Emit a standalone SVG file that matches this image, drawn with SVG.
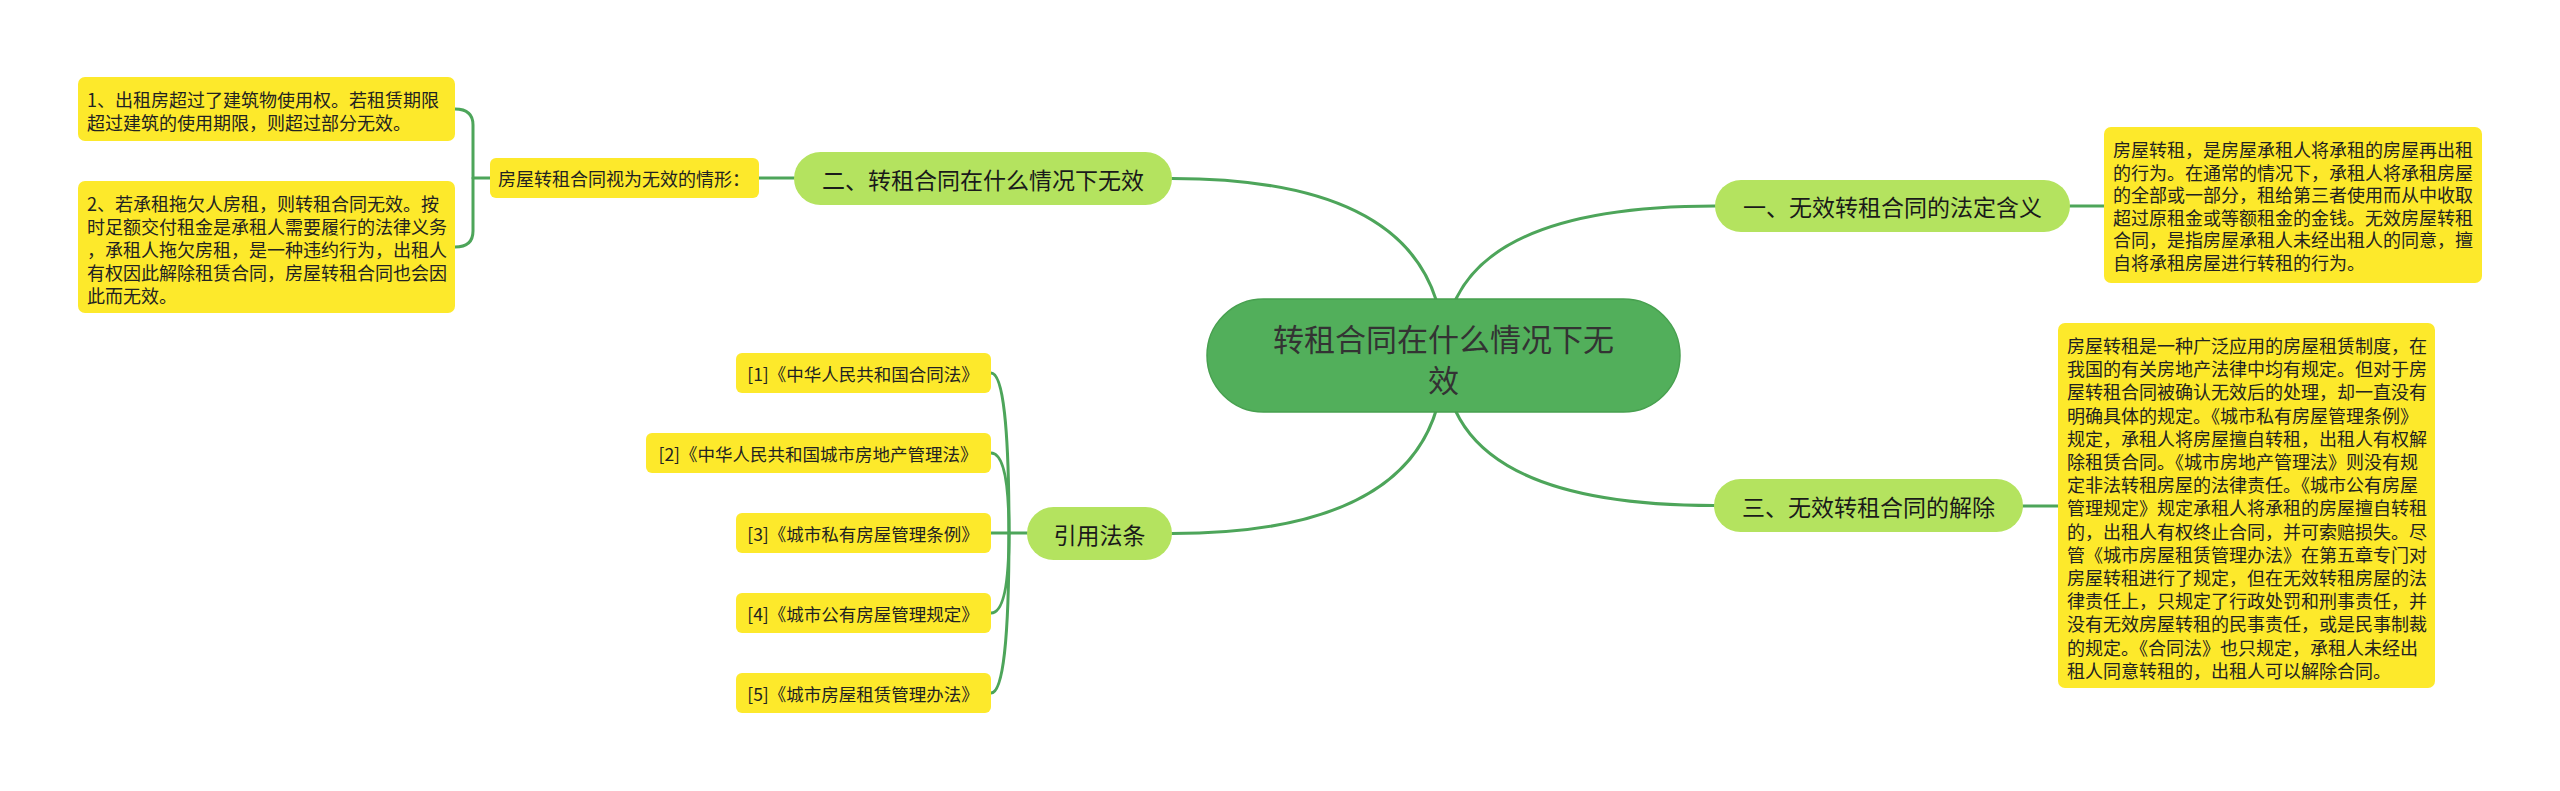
<svg xmlns="http://www.w3.org/2000/svg" width="2560" height="791" viewBox="0 0 2560 791">
<style>
text{font-family:"Noto Sans CJK SC","Noto Sans",sans-serif;fill:#222;}
.conn{fill:none;stroke:#4DA55A;stroke-width:3;stroke-linecap:round;}
.root{fill:#52AF5B;stroke:#47A04F;stroke-width:1.5;}
.main{fill:#B4E35F;}
.leaf{fill:#FDE92B;}
.t18{font-size:18px;dominant-baseline:central;}
.t17{font-size:17.5px;dominant-baseline:central;text-anchor:middle;}
.t23{font-size:23px;dominant-baseline:central;text-anchor:middle;fill:#1a1a1a;}
.t31{font-size:31px;dominant-baseline:central;text-anchor:middle;fill:#333;}
</style>
<rect width="2560" height="791" fill="#ffffff"/>
<g id="connectors">
<path class="conn" d="M1444 355 Q1444 178.5 1172 178.5"/>
<path class="conn" d="M1444 355 Q1444 206 1715 206"/>
<path class="conn" d="M1444 355 Q1444 505.5 1714 505.5"/>
<path class="conn" d="M1444 355 Q1444 533.5 1172 533.5"/>
<path class="conn" d="M759 178 L794 178"/>
<path class="conn" d="M2070 206 L2104 206"/>
<path class="conn" d="M2023 506 L2058 506"/>
<path class="conn" d="M490 178 L473 178"/>
<path class="conn" d="M455 109 Q473 109 473 125 L473 231 Q473 247 455 247"/>
<path class="conn" d="M1027 533 L1009 533"/>
<path class="conn" d="M1009 533 Q1009 373 991 373"/>
<path class="conn" d="M1009 533 Q1009 453 991 453"/>
<path class="conn" d="M1009 533 L991 533"/>
<path class="conn" d="M1009 533 Q1009 613 991 613"/>
<path class="conn" d="M1009 533 Q1009 693 991 693"/>
</g>
<g id="root">
<rect class="root" x="1207" y="299" width="473" height="113" rx="56.5"/>
<text class="t31" x="1443.5" y="337">转租合同在什么情况下无</text>
<text class="t31" x="1443.5" y="378">效</text>
</g>
<g id="node-er">
<rect class="main" x="794" y="152" width="378" height="53" rx="26.5"/>
<text class="t23" x="983" y="178.5">二、转租合同在什么情况下无效</text>
</g>
<g id="node-yi">
<rect class="main" x="1715" y="180" width="355" height="52" rx="26"/>
<text class="t23" x="1892.5" y="206">一、无效转租合同的法定含义</text>
</g>
<g id="node-san">
<rect class="main" x="1714" y="479" width="309" height="53" rx="26.5"/>
<text class="t23" x="1868.5" y="505.5">三、无效转租合同的解除</text>
</g>
<g id="node-refs">
<rect class="main" x="1027" y="507" width="145" height="53" rx="26.5"/>
<text class="t23" x="1099.5" y="533.5">引用法条</text>
</g>
<g id="label-invalid">
<rect class="leaf" x="490" y="158" width="269" height="40" rx="6"/>
<text class="t18" x="498" y="178">房屋转租合同视为无效的情形：</text>
</g>
<g id="leaf-1">
<rect class="leaf" x="78" y="77" width="377" height="64" rx="7"/>
<text class="t18" x="87" y="99">1、出租房超过了建筑物使用权。若租赁期限</text>
<text class="t18" x="87" y="121.5">超过建筑的使用期限，则超过部分无效。</text>
</g>
<g id="leaf-2">
<rect class="leaf" x="78" y="181" width="377" height="132" rx="7"/>
<text class="t18" x="87" y="203">2、若承租拖欠人房租，则转租合同无效。按</text>
<text class="t18" x="87" y="226">时足额交付租金是承租人需要履行的法律义务</text>
<text class="t18" x="87" y="249">，承租人拖欠房租，是一种违约行为，出租人</text>
<text class="t18" x="87" y="272">有权因此解除租赁合同，房屋转租合同也会因</text>
<text class="t18" x="87" y="295">此而无效。</text>
</g>
<g id="leaf-meaning">
<rect class="leaf" x="2104" y="127" width="378" height="156" rx="7"/>
<text class="t18" x="2113" y="149">房屋转租，是房屋承租人将承租的房屋再出租</text>
<text class="t18" x="2113" y="171.6">的行为。在通常的情况下，承租人将承租房屋</text>
<text class="t18" x="2113" y="194.2">的全部或一部分，租给第三者使用而从中收取</text>
<text class="t18" x="2113" y="216.8">超过原租金或等额租金的金钱。无效房屋转租</text>
<text class="t18" x="2113" y="239.4">合同，是指房屋承租人未经出租人的同意，擅</text>
<text class="t18" x="2113" y="262">自将承租房屋进行转租的行为。</text>
</g>
<g id="leaf-dissolve">
<rect class="leaf" x="2058" y="323" width="377" height="365" rx="7"/>
<text class="t18" x="2067" y="345">房屋转租是一种广泛应用的房屋租赁制度，在</text>
<text class="t18" x="2067" y="368.2">我国的有关房地产法律中均有规定。但对于房</text>
<text class="t18" x="2067" y="391.4">屋转租合同被确认无效后的处理，却一直没有</text>
<text class="t18" x="2067" y="414.6">明确具体的规定。《城市私有房屋管理条例》</text>
<text class="t18" x="2067" y="437.8">规定，承租人将房屋擅自转租，出租人有权解</text>
<text class="t18" x="2067" y="461">除租赁合同。《城市房地产管理法》则没有规</text>
<text class="t18" x="2067" y="484.2">定非法转租房屋的法律责任。《城市公有房屋</text>
<text class="t18" x="2067" y="507.4">管理规定》规定承租人将承租的房屋擅自转租</text>
<text class="t18" x="2067" y="530.6">的，出租人有权终止合同，并可索赔损失。尽</text>
<text class="t18" x="2067" y="553.8">管《城市房屋租赁管理办法》在第五章专门对</text>
<text class="t18" x="2067" y="577">房屋转租进行了规定，但在无效转租房屋的法</text>
<text class="t18" x="2067" y="600.2">律责任上，只规定了行政处罚和刑事责任，并</text>
<text class="t18" x="2067" y="623.4">没有无效房屋转租的民事责任，或是民事制裁</text>
<text class="t18" x="2067" y="646.6">的规定。《合同法》也只规定，承租人未经出</text>
<text class="t18" x="2067" y="669.8">租人同意转租的，出租人可以解除合同。</text>
</g>
<g id="ref-1">
<rect class="leaf" x="736" y="353" width="255" height="40" rx="6"/>
<text class="t17" x="863" y="373">[1]《中华人民共和国合同法》</text>
</g>
<g id="ref-2">
<rect class="leaf" x="646" y="433" width="345" height="40" rx="6"/>
<text class="t17" x="818" y="453">[2]《中华人民共和国城市房地产管理法》</text>
</g>
<g id="ref-3">
<rect class="leaf" x="736" y="513" width="255" height="40" rx="6"/>
<text class="t17" x="863" y="533">[3]《城市私有房屋管理条例》</text>
</g>
<g id="ref-4">
<rect class="leaf" x="736" y="593" width="255" height="40" rx="6"/>
<text class="t17" x="863" y="613">[4]《城市公有房屋管理规定》</text>
</g>
<g id="ref-5">
<rect class="leaf" x="736" y="673" width="255" height="40" rx="6"/>
<text class="t17" x="863" y="693">[5]《城市房屋租赁管理办法》</text>
</g>
</svg>
